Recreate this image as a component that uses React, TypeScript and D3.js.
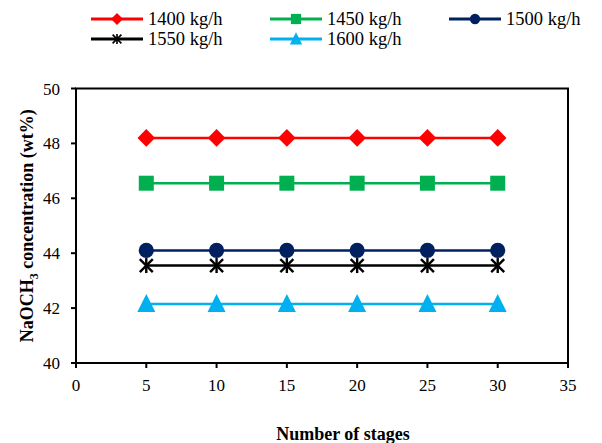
import React from "react";
import * as d3 from "d3";

const stages = [5, 10, 15, 20, 25, 30];
const seriesNames = ["1400 kg/h", "1450 kg/h", "1500 kg/h", "1550 kg/h", "1600 kg/h"];
const s1400 = [48.2, 48.2, 48.2, 48.2, 48.2, 48.2];
const s1450 = [46.55, 46.55, 46.55, 46.55, 46.55, 46.55];
const s1500 = [44.1, 44.1, 44.1, 44.1, 44.1, 44.1];
const s1550 = [43.55, 43.55, 43.55, 43.55, 43.55, 43.55];
const s1600 = [42.15, 42.15, 42.15, 42.15, 42.15, 42.15];
const xTicks = [0, 5, 10, 15, 20, 25, 30, 35];
const yTicks = [40, 42, 44, 46, 48, 50];

const colors = ["#ff0000", "#00b050", "#002060", "#000000", "#00b0f0"];
const markers = ["diamond", "square", "circle", "star", "triangle"];
const allSeries = [s1400, s1450, s1500, s1550, s1600];

const FONT = "'Liberation Serif', 'DejaVu Serif', serif";

function Marker({ type, x, y, color }: { type: string; x: number; y: number; color: string }) {
  if (type === "diamond") {
    const r = 8.8;
    return <path d={`M${x},${y - r}L${x + r},${y}L${x},${y + r}L${x - r},${y}Z`} fill={color} />;
  }
  if (type === "square") {
    const s = 7.5;
    return <rect x={x - s} y={y - s} width={2 * s} height={2 * s} fill={color} />;
  }
  if (type === "circle") {
    return <circle cx={x} cy={y} r={7.6} fill={color} />;
  }
  if (type === "triangle") {
    return <path d={`M${x},${y - 10}L${x + 9},${y + 8}L${x - 9},${y + 8}Z`} fill={color} />;
  }
  const r = 6.5;
  return (
    <g stroke={color} strokeWidth={2.4}>
      <line x1={x - r} y1={y - r} x2={x + r} y2={y + r} />
      <line x1={x - r} y1={y + r} x2={x + r} y2={y - r} />
      <line x1={x} y1={y - r - 1} x2={x} y2={y + r + 1} />
    </g>
  );
}

export default function App() {
  const W = 602, H = 443;
  const x = d3.scaleLinear().domain([0, 35]).range([76, 568]);
  const y = d3.scaleLinear().domain([40, 50]).range([363, 88.5]);
  const line = d3.line<number>().x((_, i) => x(stages[i])).y((d) => y(d));

  const legendPos = [
    { lx: 91, ly: 19 },
    { lx: 270, ly: 19 },
    { lx: 449, ly: 19 },
    { lx: 91, ly: 39 },
    { lx: 270, ly: 39 },
  ];

  return (
    <svg width={W} height={H} style={{ position: "absolute", left: 0, top: 0, background: "#fff" }} fontFamily={FONT}>
      {seriesNames.map((n, i) => {
        const { lx, ly } = legendPos[i];
        const mx = lx + 26;
        return (
          <g key={n}>
            <line x1={lx} x2={lx + 52} y1={ly} y2={ly} stroke={colors[i]} strokeWidth={3} />
            <g transform={`translate(${mx},${ly}) scale(0.68) translate(${-mx},${-ly})`}>
              <Marker type={markers[i]} x={mx} y={ly} color={colors[i]} />
            </g>
            <text x={lx + 57} y={ly + 6} fontSize={18.5} fill="#000">{n}</text>
          </g>
        );
      })}

      <rect x={x(0)} y={y(50)} width={x(35) - x(0)} height={y(40) - y(50)} fill="none" stroke="#000" strokeWidth={2} />

      {xTicks.map((t) => (
        <g key={t}>
          <line x1={x(t)} x2={x(t)} y1={y(40)} y2={y(40) + 5} stroke="#000" strokeWidth={2} />
          <text x={x(t)} y={y(40) + 28} textAnchor="middle" fontSize={17}>{t}</text>
        </g>
      ))}
      {yTicks.map((t) => (
        <g key={t}>
          <line x1={x(0) - 5} x2={x(0)} y1={y(t)} y2={y(t)} stroke="#000" strokeWidth={2} />
          <text x={x(0) - 16} y={y(t) + 6} textAnchor="end" fontSize={17}>{t}</text>
        </g>
      ))}

      {allSeries.map((s, i) => (
        <g key={i}>
          <path d={line(s) || ""} fill="none" stroke={colors[i]} strokeWidth={2.5} />
          {s.map((v, j) => (
            <Marker key={j} type={markers[i]} x={x(stages[j])} y={y(v)} color={colors[i]} />
          ))}
        </g>
      ))}

      <text x={343} y={440} textAnchor="middle" fontSize={18} fontWeight="bold">Number of stages</text>
      <text transform={`translate(33,${(y(40) + y(50)) / 2}) rotate(-90)`} textAnchor="middle" fontSize={18} fontWeight="bold">
        NaOCH<tspan fontSize={12} dy={5}>3</tspan><tspan dy={-5}> concentration (wt%)</tspan>
      </text>
    </svg>
  );
}
